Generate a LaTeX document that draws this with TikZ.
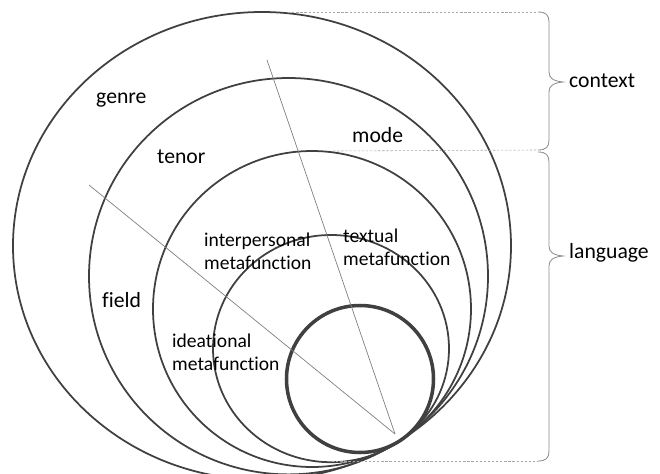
\documentclass[tikz,border=0pt]{standalone}
\usepackage{fontspec}
\setmainfont{Carlito}[Ligatures=NoCommon]
\usetikzlibrary{positioning}

\begin{document}
\begin{tikzpicture}[
    x=0.03cm, y=-0.03cm,
    ring/.style={draw=black!75, line width=1.5pt},
    core/.style={draw=black!75, line width=3pt},
    ray/.style={draw=black!50, line width=0.6pt},
    guide/.style={draw=black!35, line width=0.5pt, dash pattern=on 2pt off 1.5pt},
    curly/.style={draw=black!45, line width=0.7pt},
    lbl/.style={anchor=base west, inner sep=0pt, font=\fontsize{18.5}{22}\selectfont},
    fn/.style={anchor=base west, inner sep=0pt, align=left, font=\fontsize{16.7}{19.6}\selectfont}
]
\useasboundingbox (0,0) rectangle (660,474);

% rings, all meeting near the lower right
\draw[ring] (262,245.9) ellipse [x radius=249, y radius=233.9];
\draw[ring] (288.5,276.2) ellipse [x radius=199.5, y radius=198.2];
\draw[ring] (312,309) ellipse [x radius=159, y radius=158];
\draw[ring] (331,348.6) ellipse [x radius=118, y radius=113.6];
\draw[core] (360,379) circle [radius=73.5];

% rays
\coordinate (hub) at (395,434);
\coordinate (rayTenor) at (267,60);
\coordinate (rayField) at (89,185);
\draw[ray] (rayTenor) -- (hub);
\draw[ray] (rayField) -- (hub);

% guides to the braces
\coordinate (gTop) at (288,12);
\coordinate (gMid) at (333,151);
\coordinate (gBot) at (332,461);
\coordinate (ctxTop) at (538,12);
\coordinate (ctxBot) at (538,150);
\coordinate (lngTop) at (538,152);
\coordinate (lngBot) at (538,461);
\draw[guide] (gTop) -- (ctxTop);
\draw[guide] (gMid) -- (ctxBot);
\draw[guide] (gBot) -- (lngBot);

% braces
\draw[curly] (ctxTop) .. controls (546,12) and (549,15) .. (549,22) -- (549,72)
    .. controls (549,78) and (553,81) .. (563,82)
    .. controls (553,83) and (549,86) .. (549,92) -- (549,140)
    .. controls (549,147) and (546,150) .. (ctxBot);
\draw[curly] (lngTop) .. controls (546,152) and (549,155) .. (549,162) -- (549,246)
    .. controls (549,252) and (553,255) .. (563,256)
    .. controls (553,257) and (549,260) .. (549,266) -- (549,451)
    .. controls (549,458) and (546,461) .. (lngBot);

% labels (multi-line ones sit on the baseline of their last line)
\node[lbl] (genre) at (96,103) {genre};
\node[lbl] (tenor) at (157,163) {tenor};
\node[lbl] (mode) at (352,142) {mode};
\node[lbl] (field) at (102,307) {field};
\node[fn] (interp) at (204,269.5) {interpersonal\\metafunction};
\node[fn] (textual) at (343,265) {textual\\metafunction};
\node[fn] (ideat) at (172,370.5) {ideational\\metafunction};
\node[lbl] (context) at (569,87) {context};
\node[lbl] (language) at (569,258) {language};
\end{tikzpicture}
\end{document}
